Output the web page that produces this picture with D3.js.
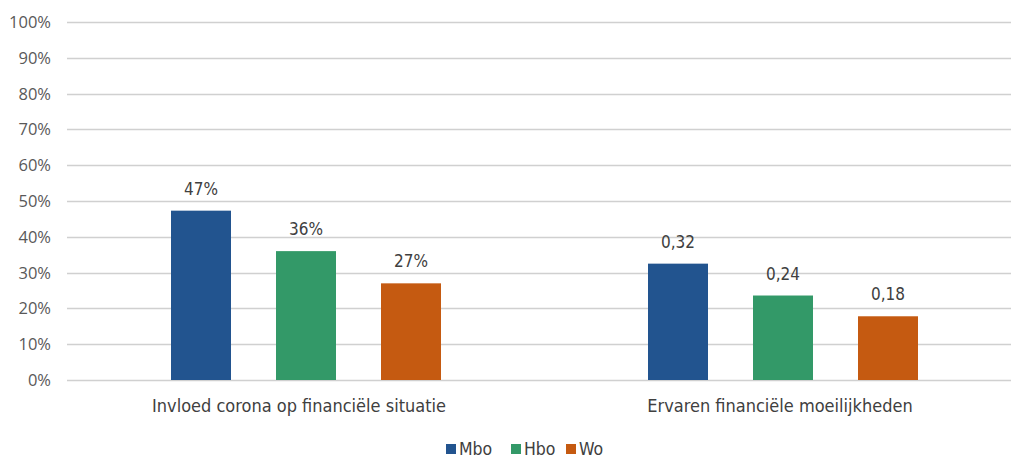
<!DOCTYPE html>
<html><head><meta charset="utf-8">
<script src="https://cdn.jsdelivr.net/npm/d3@7"></script>
<style>body{margin:0;background:#fff}svg{display:block}</style>
</head><body>
<script>
const categories = ["Invloed corona op financiële situatie", "Ervaren financiële moeilijkheden"];
const seriesNames = ["Mbo", "Hbo", "Wo"];
const mbo = [0.473, 0.325];
const hbo = [0.360, 0.236];
const wo  = [0.270, 0.178];
const labels = [["47%", "0,32"], ["36%", "0,24"], ["27%", "0,18"]];
const yTicks = [0,0.1,0.2,0.3,0.4,0.5,0.6,0.7,0.8,0.9,1.0];
const colors = ["#22548F", "#339968", "#C55A11"];

const W = 1011, H = 456;
const FONT = "'DejaVu Sans Condensed', 'DejaVu Sans', sans-serif";
const svg = d3.select("body").append("svg").attr("width", W).attr("height", H);
const y = d3.scaleLinear().domain([0, 1]).range([380, 22]);
const x0 = d3.scaleBand().domain(categories).range([67.5, 1021.5]);
const groupWidth = 270;
const x1 = d3.scaleBand().domain(seriesNames).range([0, groupWidth]).paddingInner(45 / 105).paddingOuter(0);
const series = [mbo, hbo, wo];

// gridlines
svg.append("g").selectAll("line").data(yTicks).join("line")
  .attr("x1", 67).attr("x2", W).attr("y1", d => Math.round(y(d)) + 0.5).attr("y2", d => Math.round(y(d)) + 0.5)
  .attr("stroke", "#d0d0d0").attr("stroke-width", 1.5);

// y labels
svg.append("g").selectAll("text").data(yTicks).join("text")
  .attr("x", 51).attr("y", d => y(d)).attr("dy", "0.36em").attr("text-anchor", "end")
  .attr("font-family", "'Open Sans', 'Noto Sans', sans-serif").attr("font-size", 16.5).attr("fill", "#595959")
  .text(d => d3.format(".0%")(d));

// bars
seriesNames.forEach((s, si) => {
  const g = svg.append("g");
  categories.forEach((c, ci) => {
    const gx = x0(c) + x0.bandwidth() / 2 - groupWidth / 2;
    const bx = gx + x1(s);
    const v = series[si][ci];
    g.append("rect").attr("x", bx).attr("y", y(v)).attr("width", x1.bandwidth()).attr("height", y(0) - y(v))
      .attr("fill", colors[si]);
    g.append("text").attr("x", bx + x1.bandwidth() / 2).attr("y", y(v) - 16)
      .attr("text-anchor", "middle").attr("font-family", FONT)
      .attr("font-size", 17).attr("fill", "#404040").text(labels[si][ci]);
  });
});

// category labels
svg.append("g").selectAll("text").data(categories).join("text")
  .attr("x", (d, i) => x0(d) + x0.bandwidth() / 2 - (i === 0 ? 7 : 3)).attr("y", 412).attr("text-anchor", "middle")
  .attr("font-family", FONT).attr("font-size", 18).attr("fill", "#404040")
  .text(d => d);

// legend
const legX = [446, 511, 566];
const lg = svg.append("g");
seriesNames.forEach((s, i) => {
  lg.append("rect").attr("x", legX[i]).attr("y", 444).attr("width", 10).attr("height", 10).attr("fill", colors[i]);
  lg.append("text").attr("x", legX[i] + 13).attr("y", 455)
    .attr("font-family", FONT).attr("font-size", 17.5).attr("fill", "#404040").text(s);
});
</script>
</body></html>
